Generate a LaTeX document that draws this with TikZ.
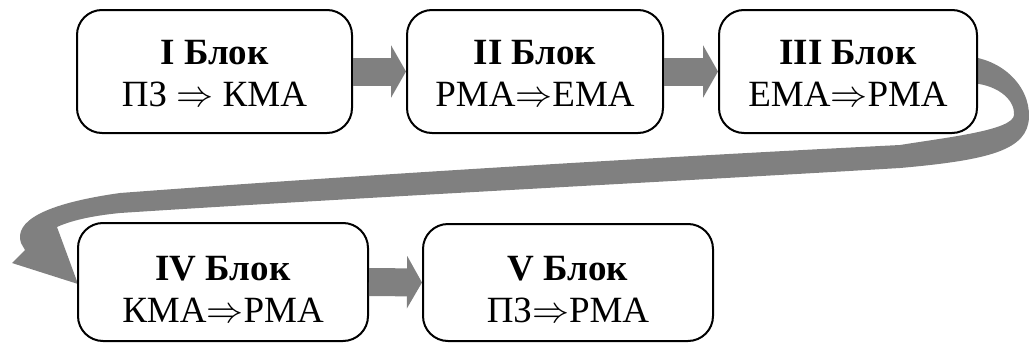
\RequirePackage{fix-cm}
\documentclass[tikz,border=0pt]{standalone}
\usepackage{fontspec}
\setmainfont{Liberation Serif}
\usetikzlibrary{arrows.meta}
\definecolor{flowgray}{HTML}{808080}
\begin{document}
\begin{tikzpicture}[x=1pt,y=-1pt,
  blk/.style={draw=black, line width=2pt, rounded corners=25pt, fill=white,
    align=center, inner sep=0pt,
    font=\fontsize{37pt}{42pt}\selectfont},
  flow/.style={draw=flowgray, line width=28pt,
    -{Triangle[width=52pt,length=15pt]}}]
\useasboundingbox (0,0) rectangle (1029,343);

% sweeping arrow from block III back to block IV
\fill[flowgray] (960,56) .. controls (1000,56) and (1030,85) .. (1029,117)
  .. controls (1028,150) and (990,160) .. (900,168)
  .. controls (700,180) and (350,198) .. (120,213)
  .. controls (90,216) and (70,221) .. (57,227)
  -- (78,284) -- (12,263) -- (25,250) -- (21,243)
  .. controls (14,222) and (42,204) .. (120,193)
  .. controls (400,172) and (700,155) .. (900,145)
  .. controls (950,137) and (1013,130) .. (1014,115)
  .. controls (1015,98) and (995,84) .. (970,83)
  -- (960,83) -- cycle;

% blocks
\node[blk, minimum width=275pt, minimum height=123pt] (b1) at (214.5,71.5)
  {\rule{0pt}{28pt}\bfseries I Блок\\ПЗ $\Rightarrow$ КМА};
\node[blk, minimum width=256pt, minimum height=123pt] (b2) at (535,71.5)
  {\rule{0pt}{28pt}\bfseries II Блок\\РМА$\Rightarrow$ЕМА};
\node[blk, minimum width=258pt, minimum height=123pt] (b3) at (848,71.5)
  {\rule{0pt}{28pt}\bfseries III Блок\\ЕМА$\Rightarrow$РМА};
\node[blk, minimum width=290pt, minimum height=118pt] (b4) at (223,282)
  {\rule{0pt}{38pt}\bfseries IV Блок\\КМА$\Rightarrow$РМА};
\node[blk, minimum width=290pt, minimum height=117pt] (b5) at (568,282.5)
  {\rule{0pt}{38pt}\bfseries V Блок\\ПЗ$\Rightarrow$РМА};

% straight arrows between neighbouring blocks
\draw[flow] (b1.east) -- (b2.west);
\draw[flow] (b2.east) -- (b3.west);
\draw[flow] (b4.east) -- (b5.west);
\end{tikzpicture}
\end{document}
